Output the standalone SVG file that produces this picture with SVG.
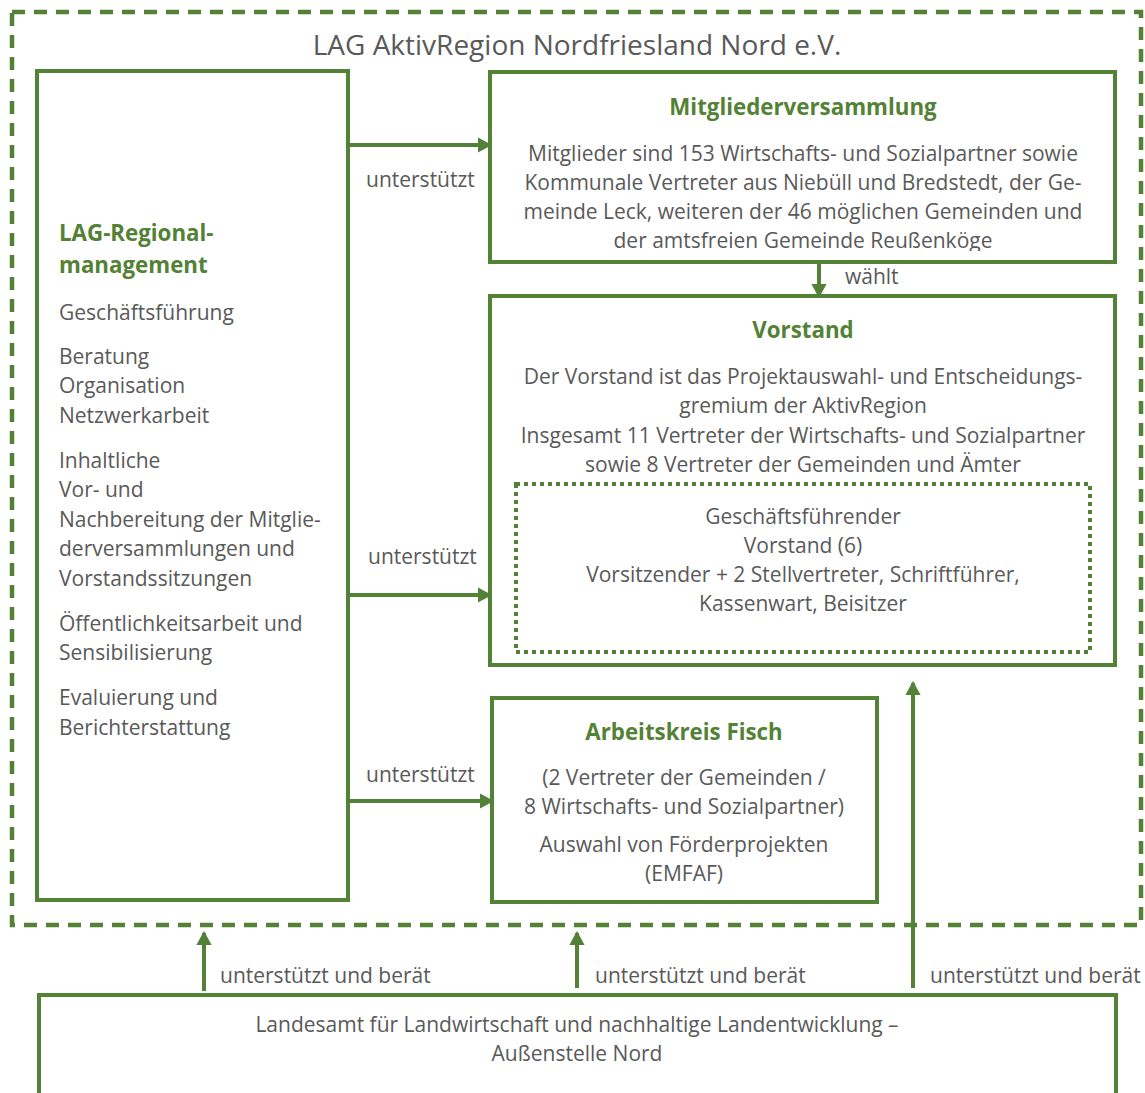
<svg xmlns="http://www.w3.org/2000/svg" width="1145" height="1093" viewBox="0 0 1145 1093">
<style>
.box{fill:none;stroke:#538135;stroke-width:4}
.t{font-family:"Open Sans","Liberation Sans",sans-serif;font-size:21px;fill:#595959}
.c{text-anchor:middle}
.h{font-family:"Open Sans","Liberation Sans",sans-serif;font-size:22.3px;font-weight:bold;fill:#538135}
.con{stroke:#538135;stroke-width:4;fill:none;marker-end:url(#ah)}
</style>
<defs>
<marker id="ah" markerWidth="4" markerHeight="4" refX="3" refY="2" orient="auto" markerUnits="strokeWidth" viewBox="0 0 4 4">
<path d="M0,0.1 L3.5,2 L0,3.9 Z" fill="#538135"/>
</marker>
<clipPath id="mvclip"><rect x="490" y="72" width="625" height="179"/></clipPath>
</defs>
<rect width="1145" height="1093" fill="#fff"/>
<g id="outer">
<rect x="12" y="12" width="1129" height="913" fill="none" stroke="#538135" stroke-width="4.5" stroke-dasharray="13 9"/>
<text class="t c" x="577" y="55" style="font-size:28px">LAG AktivRegion Nordfriesland Nord e.V.</text>
</g>
<g id="regionalmanagement">
<rect class="box" x="37" y="71" width="311" height="829"/>
<text class="h" x="59" y="241">LAG-Regional-</text>
<text class="h" x="59" y="273">management</text>
<text class="t" x="59" y="320">Geschäftsführung</text>
<text class="t" x="59" y="364">Beratung</text>
<text class="t" x="59" y="393">Organisation</text>
<text class="t" x="59" y="423">Netzwerkarbeit</text>
<text class="t" x="59" y="468">Inhaltliche</text>
<text class="t" x="59" y="497">Vor- und</text>
<text class="t" x="59" y="527">Nachbereitung der Mitglie-</text>
<text class="t" x="59" y="556">derversammlungen und</text>
<text class="t" x="59" y="586">Vorstandssitzungen</text>
<text class="t" x="59" y="631">Öffentlichkeitsarbeit und</text>
<text class="t" x="59" y="660">Sensibilisierung</text>
<text class="t" x="59" y="705">Evaluierung und</text>
<text class="t" x="59" y="735">Berichterstattung</text>
</g>
<g id="mitgliederversammlung">
<rect class="box" x="490" y="72" width="625" height="190"/>
<text class="h c" x="803" y="115">Mitgliederversammlung</text>
<g clip-path="url(#mvclip)">
<text class="t c" x="803" y="161">Mitglieder sind 153 Wirtschafts- und Sozialpartner sowie</text>
<text class="t c" x="803" y="190">Kommunale Vertreter aus Niebüll und Bredstedt, der Ge-</text>
<text class="t c" x="803" y="219">meinde Leck, weiteren der 46 möglichen Gemeinden und</text>
<text class="t c" x="803" y="248">der amtsfreien Gemeinde Reußenköge</text>
</g>
</g>
<g id="vorstand">
<rect class="box" x="490" y="296" width="625" height="369"/>
<text class="h c" x="803" y="338">Vorstand</text>
<text class="t c" x="803" y="384">Der Vorstand ist das Projektauswahl- und Entscheidungs-</text>
<text class="t c" x="803" y="413">gremium der AktivRegion</text>
<text class="t c" x="803" y="443">Insgesamt 11 Vertreter der Wirtschafts- und Sozialpartner</text>
<text class="t c" x="803" y="472">sowie 8 Vertreter der Gemeinden und Ämter</text>
</g>
<g id="geschaeftsfuehrender-vorstand">
<rect x="516" y="484" width="574" height="168" fill="none" stroke="#538135" stroke-width="4" stroke-dasharray="4 4"/>
<text class="t c" x="803" y="524">Geschäftsführender</text>
<text class="t c" x="803" y="553">Vorstand (6)</text>
<text class="t c" x="803" y="582">Vorsitzender + 2 Stellvertreter, Schriftführer,</text>
<text class="t c" x="803" y="611">Kassenwart, Beisitzer</text>
</g>
<g id="arbeitskreis-fisch">
<rect class="box" x="492" y="698" width="385" height="204"/>
<text class="h c" x="684" y="740">Arbeitskreis Fisch</text>
<text class="t c" x="684" y="785">(2 Vertreter der Gemeinden /</text>
<text class="t c" x="684" y="814">8 Wirtschafts- und Sozialpartner)</text>
<text class="t c" x="684" y="852">Auswahl von Förderprojekten</text>
<text class="t c" x="684" y="881">(EMFAF)</text>
</g>
<g id="landesamt">
<path class="box" d="M39,1093 V995 H1116 V1093"/>
<text class="t c" x="577" y="1032">Landesamt für Landwirtschaft und nachhaltige Landentwicklung  –</text>
<text class="t c" x="577" y="1061">Außenstelle Nord</text>
</g>
<g id="connectors">
<line class="con" x1="348" y1="145" x2="490" y2="145"/>
<line class="con" x1="348" y1="595" x2="490" y2="595"/>
<line class="con" x1="348" y1="801" x2="492" y2="801"/>
<line class="con" x1="819" y1="262" x2="819" y2="296"/>
<line class="con" x1="204" y1="991" x2="204" y2="933"/>
<line class="con" x1="577" y1="988" x2="577" y2="933"/>
<line class="con" x1="913" y1="988" x2="913" y2="683"/>
<text class="t" x="366" y="187">unterstützt</text>
<text class="t" x="368" y="564">unterstützt</text>
<text class="t" x="366" y="782">unterstützt</text>
<text class="t" x="845" y="284">wählt</text>
<text class="t" x="220" y="983">unterstützt und berät</text>
<text class="t" x="595" y="983">unterstützt und berät</text>
<text class="t" x="930" y="983">unterstützt und berät</text>
</g>
</svg>
